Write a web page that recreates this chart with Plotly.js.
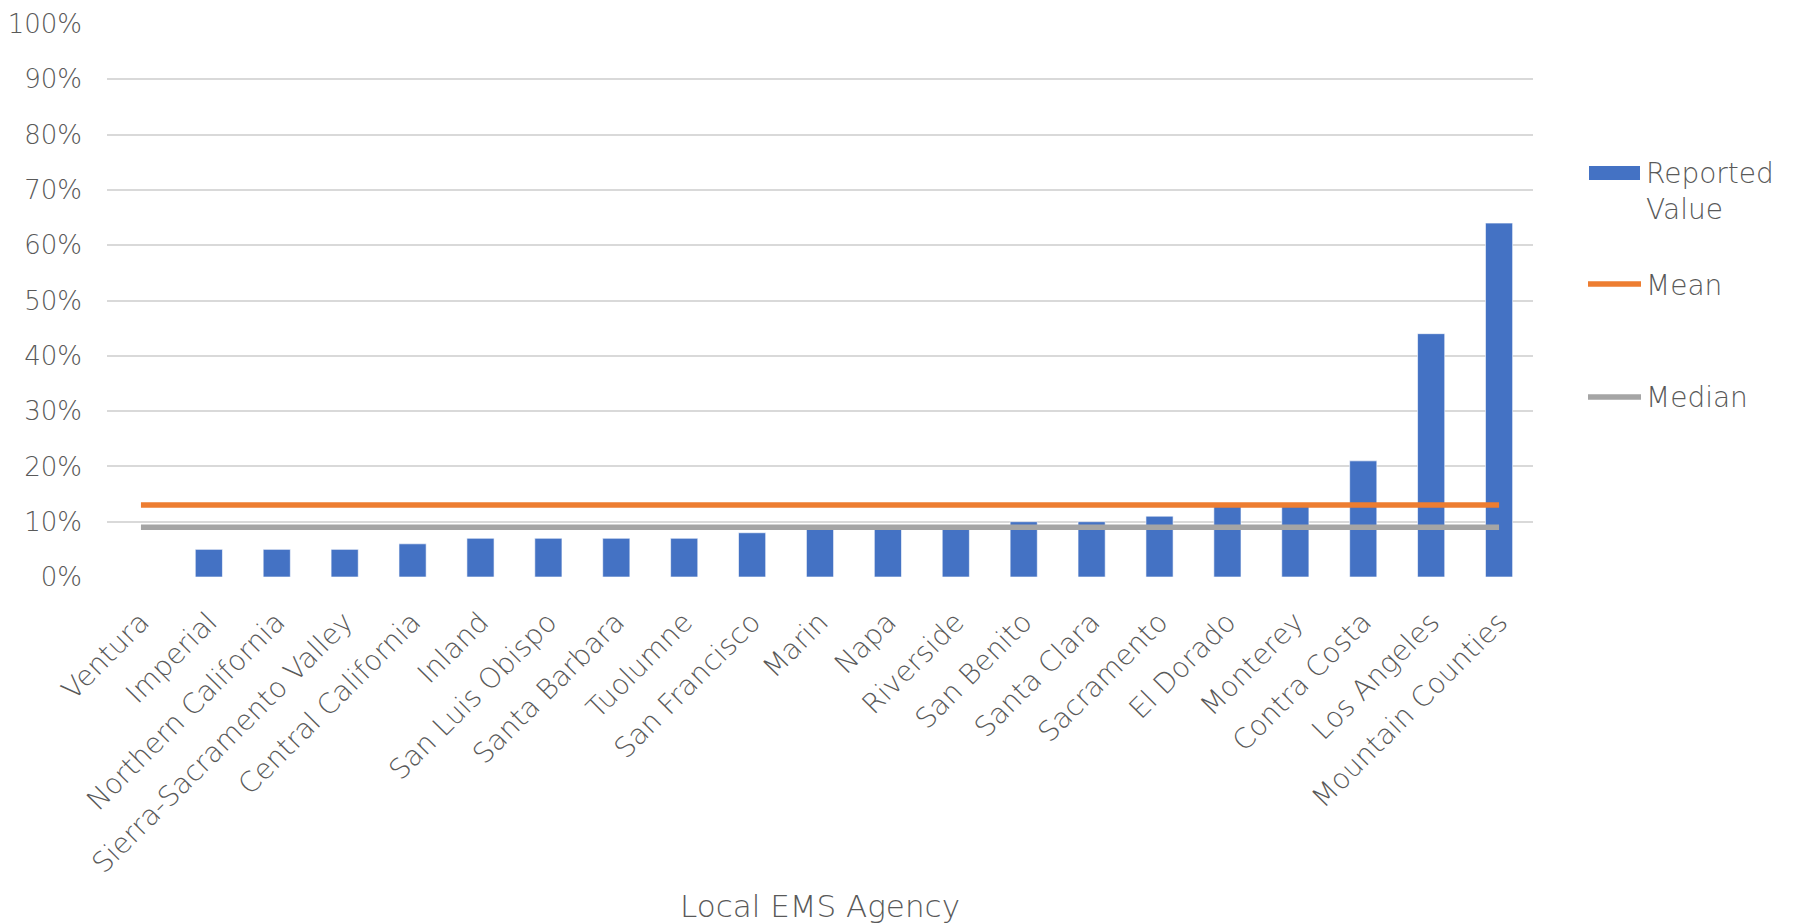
<!DOCTYPE html>
<html>
<head>
<meta charset="utf-8">
<script src="https://cdn.plot.ly/plotly-3.0.1.min.js"></script>
<style>html,body{margin:0;padding:0;background:#fff;}#chart{width:1805px;height:924px;}</style>
</head>
<body>
<div id="chart"></div>
<script>
const agencies = ["Ventura", "Imperial", "Northern California", "Sierra-Sacramento Valley", "Central California", "Inland", "San Luis Obispo", "Santa Barbara", "Tuolumne", "San Francisco", "Marin", "Napa", "Riverside", "San Benito", "Santa Clara", "Sacramento", "El Dorado", "Monterey", "Contra Costa", "Los Angeles", "Mountain Counties"];
const reportedValues = [0, 0.05, 0.05, 0.05, 0.06, 0.07, 0.07, 0.07, 0.07, 0.08, 0.09, 0.09, 0.09, 0.10, 0.10, 0.11, 0.13, 0.13, 0.21, 0.44, 0.64];
const meanValues = [0.13, 0.13, 0.13, 0.13, 0.13, 0.13, 0.13, 0.13, 0.13, 0.13, 0.13, 0.13, 0.13, 0.13, 0.13, 0.13, 0.13, 0.13, 0.13, 0.13, 0.13];
const medianValues = [0.09, 0.09, 0.09, 0.09, 0.09, 0.09, 0.09, 0.09, 0.09, 0.09, 0.09, 0.09, 0.09, 0.09, 0.09, 0.09, 0.09, 0.09, 0.09, 0.09, 0.09];
const seriesNames = ["Reported<br>Value", "Mean", "Median"];
const axisTitleX = "Local EMS Agency";

const FONT = "'DejaVu Sans', Lato, sans-serif";
const W = 200;
const TXT = "#595959";
const BLUE = "#4472C4", ORANGE = "#ED7D31", GRAY = "#A5A5A5";

const traces = [
  {type: "bar", x: agencies, y: reportedValues, name: seriesNames[0], showlegend: false,
   marker: {color: BLUE, line: {color: "rgba(255,255,255,0.6)", width: 1}}},
  {type: "scatter", mode: "lines", x: agencies, y: meanValues, name: seriesNames[1], showlegend: false,
   line: {color: ORANGE, width: 5.5}},
  {type: "scatter", mode: "lines", x: agencies, y: medianValues, name: seriesNames[2], showlegend: false,
   line: {color: GRAY, width: 5.5}}
];

const plotL = 107, plotR = 1533, plotT = 24, plotB = 577;
const pw = plotR - plotL, ph = plotB - plotT;
function px(x){ return (x - plotL) / pw; }
function py(y){ return (plotB - y) / ph; }

const legendY = [173, 284, 397];
const lf = {family: FONT, size: 28, color: TXT, weight: W};
const shapes = [
  {type: "rect", xref: "paper", yref: "paper", x0: px(1589), x1: px(1640), y0: py(180), y1: py(166),
   fillcolor: BLUE, line: {width: 0}},
  {type: "line", xref: "paper", yref: "paper", x0: px(1588), x1: px(1641), y0: py(legendY[1]), y1: py(legendY[1]),
   line: {color: ORANGE, width: 5.5}},
  {type: "line", xref: "paper", yref: "paper", x0: px(1588), x1: px(1641), y0: py(legendY[2]), y1: py(legendY[2]),
   line: {color: GRAY, width: 5.5}}
];
const annotations = [
  {xref: "paper", yref: "paper", x: px(1644), y: py(191), xanchor: "left", yanchor: "middle", align: "left",
   text: seriesNames[0], showarrow: false, font: lf},
  {xref: "paper", yref: "paper", x: px(1644), y: py(legendY[1] + 1), xanchor: "left", yanchor: "middle",
   text: seriesNames[1], showarrow: false, font: lf},
  {xref: "paper", yref: "paper", x: px(1644), y: py(legendY[2] + 1), xanchor: "left", yanchor: "middle",
   text: seriesNames[2], showarrow: false, font: lf}
];

const layout = {
  width: 1805, height: 924,
  margin: {l: plotL, r: 1805 - plotR, t: plotT, b: 924 - plotB, pad: 0},
  paper_bgcolor: "#fff", plot_bgcolor: "#fff",
  font: {family: FONT, color: TXT, size: 28, weight: W},
  showlegend: false,
  bargap: 0.6,
  xaxis: {type: "category", tickangle: -45, showgrid: false, zeroline: false,
          showline: false, ticks: "", ticklabelstandoff: 22,
          tickfont: {family: FONT, size: 28, color: TXT, weight: W},
          title: {text: axisTitleX, font: {family: FONT, size: 31, color: TXT, weight: W}, standoff: 20},
          automargin: false},
  yaxis: {range: [0, 1], dtick: 0.1, tickformat: ".0%", showgrid: true, gridcolor: "#D9D9D9", gridwidth: 2,
          zeroline: false, showline: false, ticks: "", ticklabelstandoff: 24,
          tickfont: {family: FONT, size: 26, color: TXT, weight: W}, automargin: false},
  shapes: shapes,
  annotations: annotations
};

Plotly.newPlot("chart", traces, layout, {displayModeBar: false, staticPlot: true});
</script>
</body>
</html>
